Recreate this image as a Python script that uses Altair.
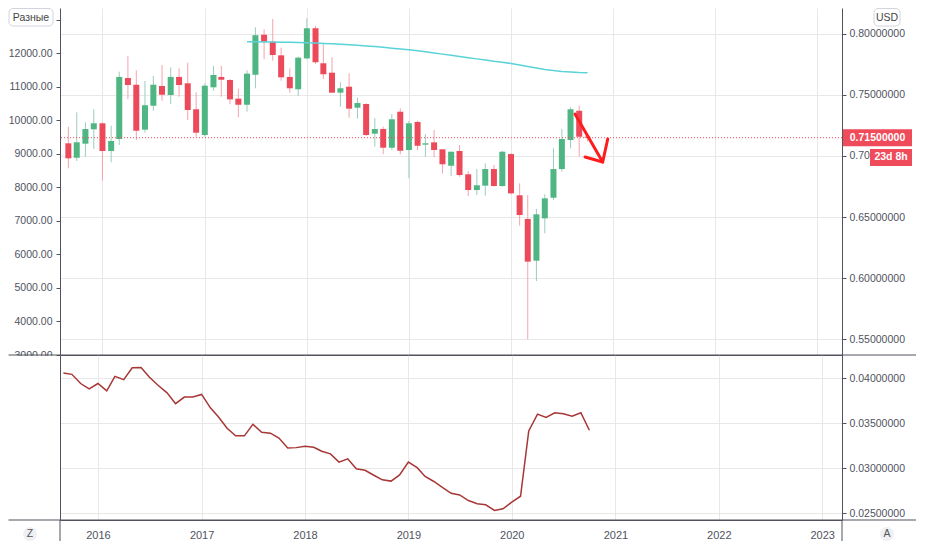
import altair as alt
import pandas as pd

# ---------------- data ----------------
months = [f"{y}-{m:02d}-01" for y in range(2015, 2021) for m in range(1, 13)]
months = [d for d in months if "2015-09-01" <= d <= "2020-10-01"]

open_ = [0.7104, 0.6986, 0.7101, 0.7219,
         0.7268, 0.7041, 0.7139, 0.7639, 0.7584, 0.7216, 0.7412, 0.7574, 0.7500, 0.7648, 0.7596, 0.7383,
         0.7172, 0.7563, 0.7648, 0.7623, 0.7470, 0.7420, 0.7666, 0.7994, 0.7937, 0.7825, 0.7648, 0.7547,
         0.7800, 0.8047, 0.7760, 0.7683, 0.7519, 0.7568, 0.7396, 0.7426, 0.7183, 0.7221, 0.7068, 0.7363,
         0.7049, 0.7279, 0.7093, 0.7112, 0.7055, 0.6920, 0.7041, 0.6850, 0.6721, 0.6757, 0.6893, 0.6754,
         0.7016, 0.6678, 0.6484, 0.6142, 0.6489, 0.6658, 0.6893, 0.7131, 0.7371, 0.7158]
high = [0.7240, 0.7358, 0.7276, 0.7383,
        0.7275, 0.7248, 0.7691, 0.7820, 0.7702, 0.7615, 0.7656, 0.7746, 0.7727, 0.7719, 0.7765, 0.7522,
        0.7596, 0.7738, 0.7738, 0.7631, 0.7552, 0.7702, 0.8055, 0.8039, 0.8123, 0.7888, 0.7719, 0.7814,
        0.8129, 0.8066, 0.7916, 0.7809, 0.7604, 0.7678, 0.7478, 0.7432, 0.7311, 0.7240, 0.7344, 0.7391,
        0.7287, 0.7289, 0.7180, 0.7213, 0.7057, 0.7035, 0.7090, 0.6877, 0.6893, 0.6940, 0.6926, 0.7043,
        0.7022, 0.6776, 0.6680, 0.6566, 0.6686, 0.7063, 0.7221, 0.7399, 0.7412, 0.7175]
low = [0.6899, 0.6959, 0.6994, 0.7057,
       0.6798, 0.6948, 0.7090, 0.7465, 0.7131, 0.7191, 0.7371, 0.7453, 0.7426, 0.7486, 0.7295, 0.7158,
       0.7158, 0.7535, 0.7486, 0.7424, 0.7317, 0.7363, 0.7555, 0.7793, 0.7781, 0.7617, 0.7519, 0.7494,
       0.7793, 0.7754, 0.7631, 0.7519, 0.7404, 0.7314, 0.7306, 0.7164, 0.7076, 0.7014, 0.7049, 0.7014,
       0.6817, 0.7049, 0.6994, 0.6989, 0.6858, 0.6836, 0.6830, 0.6672, 0.6680, 0.6675, 0.6748, 0.6748,
       0.6686, 0.6429, 0.5498, 0.5975, 0.6366, 0.6639, 0.6871, 0.7063, 0.6994, 0.7120]
close = [0.6981, 0.7112, 0.7221, 0.7268,
         0.7041, 0.7123, 0.7648, 0.7582, 0.7207, 0.7416, 0.7584, 0.7502, 0.7648, 0.7582, 0.7377, 0.7191,
         0.7576, 0.7664, 0.7625, 0.7464, 0.7420, 0.7675, 0.7990, 0.7937, 0.7828, 0.7645, 0.7555, 0.7806,
         0.8047, 0.7768, 0.7670, 0.7519, 0.7555, 0.7388, 0.7434, 0.7172, 0.7221, 0.7068, 0.7301, 0.7043,
         0.7268, 0.7084, 0.7104, 0.7049, 0.6932, 0.7035, 0.6844, 0.6721, 0.6760, 0.6893, 0.6754, 0.7035,
         0.6694, 0.6516, 0.6134, 0.6522, 0.6653, 0.6893, 0.7139, 0.7383, 0.7158, 0.7150]

# lower pane indicator
indicator = [0.04058, 0.04044, 0.03942, 0.03883,
             0.03942, 0.03861, 0.04022, 0.03985, 0.04117, 0.04120, 0.04011, 0.03920, 0.03839, 0.03719, 0.03792, 0.03792,
             0.03821, 0.03672, 0.03573, 0.03445, 0.03361, 0.03361, 0.03489, 0.03401, 0.03391, 0.03336, 0.03226, 0.03230,
             0.03245, 0.03234, 0.03190, 0.03161, 0.03069, 0.03106, 0.02996, 0.02978, 0.02923, 0.02872, 0.02858, 0.02927,
             0.03069, 0.03007, 0.02909, 0.02854, 0.02788, 0.02723, 0.02704, 0.02642, 0.02606, 0.02595, 0.02533, 0.02551,
             0.02624, 0.02690, 0.03416, 0.03602, 0.03566, 0.03617, 0.03606, 0.03580, 0.03617, 0.03423]

# moving average (cyan), Jun 2017 .. Oct 2020
ma_months = [d for d in months if d >= "2017-06-01"]
ma_values = [0.7937, 0.7936, 0.7935, 0.7934, 0.7933, 0.7932, 0.7930,
             0.7928, 0.7926, 0.7923, 0.7920, 0.7916, 0.7911, 0.7907, 0.7902, 0.7897, 0.7891, 0.7884, 0.7877,
             0.7870, 0.7863, 0.7855, 0.7845, 0.7835, 0.7825, 0.7816, 0.7806, 0.7796, 0.7786, 0.7776, 0.7768,
             0.7758, 0.7746, 0.7734, 0.7721, 0.7709, 0.7700, 0.7693, 0.7689, 0.7685, 0.7683]

# hand-drawn arrow annotation
arrow_dates = ["2020-08-17", "2020-11-24", "2020-09-22", "2020-11-24", "2020-12-12"]
arrow_prices = [0.7344, 0.6951, 0.6992, 0.6951, 0.7139]
arrow_segs = ["shaft", "shaft", "head", "head", "head"]
arrow_order = [0, 1, 0, 1, 2]

last_price = 0.715
last_label = "0.71500000"
timer_label = "23d 8h"

years = list(range(2016, 2024))
left_ticks = [3000, 4000, 5000, 6000, 7000, 8000, 9000, 10000, 11000, 12000, 13000]
right_ticks = [0.55, 0.60, 0.65, 0.70, 0.75, 0.80]
bottom_ticks = [0.025, 0.030, 0.035, 0.040]

# ---------------- style ----------------
FONT = "Liberation Sans"
LABEL = "#50535e"
GRID = "#e8e8e8"
DOMAIN = "#50535e"
UP, DOWN = "#4fb583", "#ec4a5b"
UP_WICK, DOWN_WICK = "#9ccdbd", "#f5a3ac"
MA_COLOR = "#5ad3d8"
IND_COLOR = "#a83636"
ARROW = "#ff1c1c"
TAG = "#ef4b5b"

W = 782
H_TOP = 347
H_BOT = 165

df = pd.DataFrame({"date": months, "open": open_, "high": high, "low": low, "close": close})
ma_df = pd.DataFrame({"date": ma_months, "ma": ma_values})
ind_df = pd.DataFrame({"date": months, "v": indicator})
arrow_df = pd.DataFrame({"date": arrow_dates, "price": arrow_prices, "seg": arrow_segs, "ord": arrow_order})
price_df = pd.DataFrame({"p": [last_price], "label": [last_label], "timer": [timer_label]})
one = pd.DataFrame({"k": [0]})

year_vals = [alt.DateTime(year=y, month=1, date=1, utc=True) for y in years]
x_scale = alt.Scale(type="utc", domain=[alt.DateTime(year=2015, month=8, date=20, utc=True),
                                        alt.DateTime(year=2023, month=3, date=12, utc=True)])

top_x_axis = alt.Axis(values=year_vals, labels=False, ticks=False, domain=True, domainColor=DOMAIN,
                      grid=True, gridColor=GRID, title=None, minExtent=0, maxExtent=0, orient="bottom")
bot_x_axis = alt.Axis(values=year_vals, labelExpr="utcFormat(datum.value, '%Y')", ticks=False, tickSize=0,
                      labelPadding=9, domain=True, domainColor=DOMAIN, grid=True, gridColor=GRID,
                      title=None, orient="bottom", labelFlush=False, labelFontSize=11)

right_scale = alt.Scale(domain=[0.5369, 0.8213], nice=False, zero=False)
right_axis = alt.Axis(orient="right", values=right_ticks, format=".8f", grid=True, gridColor=GRID,
                      domainColor=DOMAIN, tickColor=DOMAIN, tickSize=4, labelPadding=3, title=None,
                      labelFontSize=10.5, minExtent=74, maxExtent=74)


def XT(field="date", axis=top_x_axis):
    return alt.X(f"{field}:T", scale=x_scale, axis=axis)


def YR(field):
    return alt.Y(f"{field}:Q", scale=right_scale, axis=right_axis)


is_up = "datum.close >= datum.open"

base = alt.Chart(df)
wicks = base.mark_rule(strokeWidth=1).encode(
    x=XT(), y=YR("low"), y2="high:Q",
    color=alt.condition(is_up, alt.value(UP_WICK), alt.value(DOWN_WICK)))
bodies = base.mark_bar(size=6).encode(
    x=XT(), y=YR("open"), y2="close:Q",
    color=alt.condition(is_up, alt.value(UP), alt.value(DOWN)))
ma_line = alt.Chart(ma_df).mark_line(color=MA_COLOR, strokeWidth=1.5).encode(x=XT(), y=YR("ma"))
last_rule = alt.Chart(price_df).mark_rule(color=TAG, strokeDash=[1, 2], strokeWidth=1).encode(y=YR("p"))
arrow = alt.Chart(arrow_df).mark_line(color=ARROW, strokeWidth=3, strokeCap="round", strokeJoin="round").encode(
    x=XT(), y=YR("price"), detail="seg:N", order="ord:Q")

tag_rect = alt.Chart(price_df).mark_rect(color=TAG, yOffset=-8.5, y2Offset=8.5).encode(
    x=alt.value(W + 1), x2=alt.value(W + 70), y=YR("p"), y2="p:Q")
tag_text = alt.Chart(price_df).mark_text(color="white", fontSize=10.5, fontWeight="bold", font=FONT,
                                         align="center", baseline="middle").encode(
    x=alt.value(W + 35.5), y=YR("p"), text="label:N")
timer_rect = alt.Chart(price_df).mark_rect(color=TAG, yOffset=11.3, y2Offset=28.3).encode(
    x=alt.value(W + 28), x2=alt.value(W + 70), y=YR("p"), y2="p:Q")
timer_text = alt.Chart(price_df).mark_text(color="white", fontSize=10.5, fontWeight="bold", font=FONT,
                                           align="center", baseline="middle", yOffset=19.8).encode(
    x=alt.value(W + 49), y=YR("p"), text="timer:N")

btn_left = alt.Chart(one).mark_rect(fill="white", stroke="#d1d4dc", strokeWidth=1, cornerRadius=4).encode(
    x=alt.value(-51), x2=alt.value(-7), y=alt.value(0.5), y2=alt.value(18))
btn_left_t = alt.Chart(one).mark_text(font=FONT, fontSize=10.5, color="#444", align="center", baseline="middle").encode(
    x=alt.value(-29), y=alt.value(9.5), text=alt.value("Разные"))
btn_usd = alt.Chart(one).mark_rect(fill="white", stroke="#d1d4dc", strokeWidth=1, cornerRadius=4).encode(
    x=alt.value(W + 32), x2=alt.value(W + 58), y=alt.value(0.5), y2=alt.value(18))
btn_usd_t = alt.Chart(one).mark_text(font=FONT, fontSize=10.5, color="#444", align="center", baseline="middle").encode(
    x=alt.value(W + 45), y=alt.value(9.5), text=alt.value("USD"))

left_dummy = alt.Chart(pd.DataFrame({"v": left_ticks})).mark_point(opacity=0).encode(
    y=alt.Y("v:Q", scale=alt.Scale(domain=[3000, 13354], nice=False, zero=False),
            axis=alt.Axis(orient="left", values=left_ticks,
                          labelExpr="datum.value >= 13000 ? '' : format(datum.value, '.2f')",
                          grid=False, tickSize=4, tickColor=DOMAIN, domainColor=DOMAIN, labelPadding=4,
                          labelFontSize=10.5, title=None, minExtent=52, maxExtent=52)))

top_inner = alt.layer(wicks, bodies, ma_line, last_rule, arrow, tag_rect, tag_text, timer_rect, timer_text,
                      btn_left, btn_left_t, btn_usd, btn_usd_t)
top = alt.layer(left_dummy, top_inner).resolve_scale(y="independent").properties(width=W, height=H_TOP)

# ---------------- lower pane ----------------
bot_scale = alt.Scale(domain=[0.02426, 0.04259], nice=False, zero=False)
bot_axis = alt.Axis(orient="right", values=bottom_ticks, format=".8f", grid=True, gridColor=GRID,
                    domainColor=DOMAIN, tickColor=DOMAIN, tickSize=4, labelPadding=3, title=None,
                    labelFontSize=10.5, minExtent=74, maxExtent=74)

ind_line = alt.Chart(ind_df).mark_line(color=IND_COLOR, strokeWidth=1.5).encode(
    x=XT(axis=bot_x_axis), y=alt.Y("v:Q", scale=bot_scale, axis=bot_axis))
cover = alt.Chart(one).mark_rect(fill="white").encode(
    x=alt.value(-51), x2=alt.value(-1), y=alt.value(1), y2=alt.value(9))
sep_top = alt.Chart(one).mark_rule(color=DOMAIN, strokeWidth=1).encode(
    x=alt.value(-51.5), x2=alt.value(W + 74), y=alt.value(0))
sep_bot = alt.Chart(one).mark_rule(color=DOMAIN, strokeWidth=1).encode(
    x=alt.value(-51.5), x2=alt.value(W + 74), y=alt.value(H_BOT))
v_left = alt.Chart(one).mark_rule(color=DOMAIN, strokeWidth=1).encode(
    x=alt.value(0), y=alt.value(H_BOT), y2=alt.value(H_BOT + 21))
v_right = alt.Chart(one).mark_rule(color=DOMAIN, strokeWidth=1).encode(
    x=alt.value(W), y=alt.value(H_BOT), y2=alt.value(H_BOT + 21))
circ_z = alt.Chart(one).mark_circle(color="#eef0f4", opacity=1, size=196).encode(
    x=alt.value(-30), y=alt.value(H_BOT + 14))
circ_a = alt.Chart(one).mark_circle(color="#eef0f4", opacity=1, size=196).encode(
    x=alt.value(W + 45), y=alt.value(H_BOT + 14))
txt_z = alt.Chart(one).mark_text(font=FONT, fontSize=10.5, color="#555", align="center", baseline="middle").encode(
    x=alt.value(-30), y=alt.value(H_BOT + 14), text=alt.value("Z"))
txt_a = alt.Chart(one).mark_text(font=FONT, fontSize=10.5, color="#555", align="center", baseline="middle").encode(
    x=alt.value(W + 45), y=alt.value(H_BOT + 14), text=alt.value("A"))

bot_left_dummy = alt.Chart(pd.DataFrame({"v": bottom_ticks})).mark_point(opacity=0).encode(
    y=alt.Y("v:Q", scale=bot_scale,
            axis=alt.Axis(orient="left", labels=False, ticks=False, grid=False, domainColor=DOMAIN,
                          title=None, minExtent=52, maxExtent=52)))

bot_inner = alt.layer(ind_line, cover, sep_top, sep_bot, v_left, v_right, circ_z, circ_a, txt_z, txt_a)
bottom = alt.layer(bot_left_dummy, bot_inner).resolve_scale(y="independent").properties(width=W, height=H_BOT)

chart = alt.vconcat(top, bottom, spacing=0, bounds="flush").resolve_scale(
    x="independent", y="independent"
).properties(
    padding=0, background="white"
).configure_view(stroke=None).configure_axis(
    labelFont=FONT, labelFontSize=11, labelColor=LABEL
)

chart.save("out.html", embed_options={"renderer": "svg", "actions": False})
